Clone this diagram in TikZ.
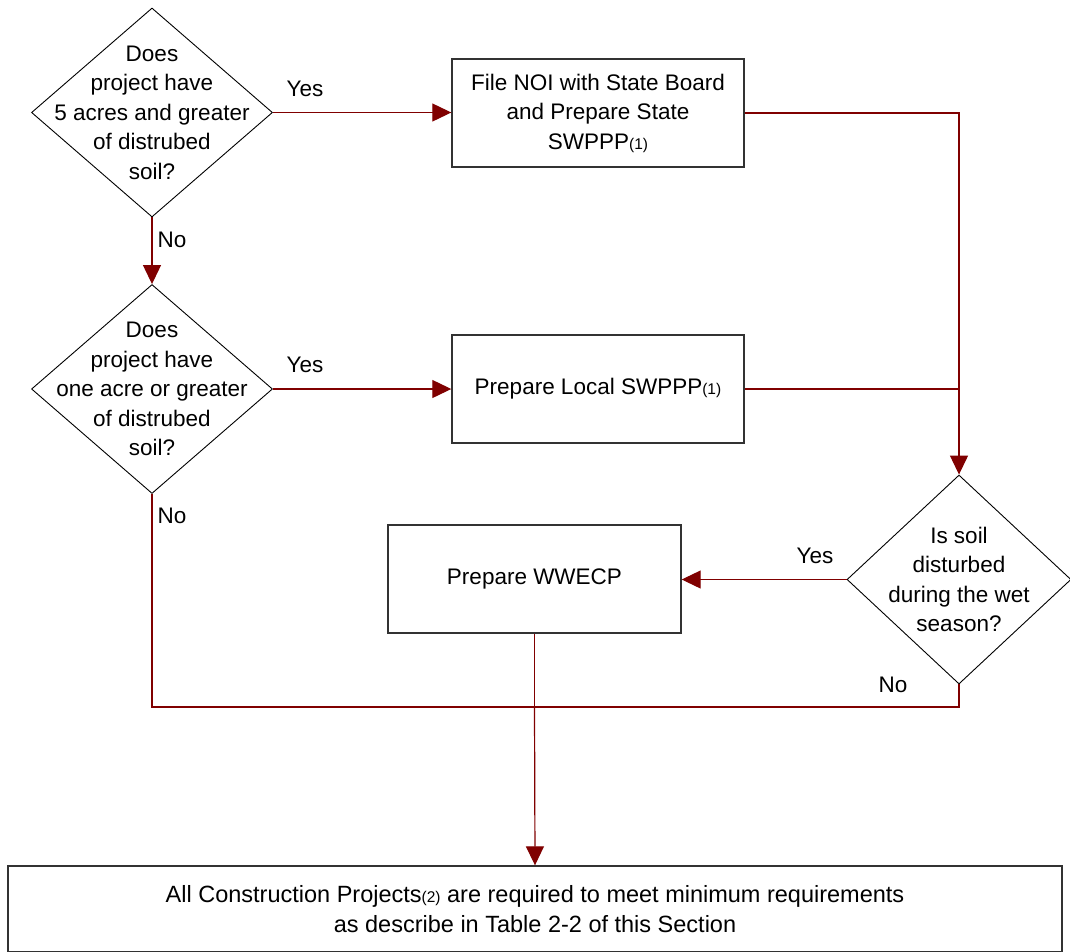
\documentclass[tikz,border=0pt]{standalone}
\usepackage{fontspec}
\setmainfont{Liberation Sans}
\usetikzlibrary{shapes.geometric,arrows.meta}
\definecolor{arrowred}{RGB}{128,0,0}
\definecolor{boxgray}{RGB}{50,50,50}
\newcommand{\sm}[1]{{\fontsize{15.5}{15.5}\selectfont #1}}
\begin{document}
\begin{tikzpicture}[x=1pt,y=-1pt,
  font=\fontsize{22.5}{29.5}\selectfont,
  dia/.style={draw=black,line width=0.9pt,diamond,inner sep=0pt,minimum width=241pt,minimum height=209pt},
  box/.style={draw=boxgray,line width=1.4pt,rectangle,inner sep=0pt,align=center},
  txt/.style={align=center,inner sep=0pt},
  lbl/.style={inner sep=0pt},
  conn/.style={draw=arrowred,line width=1.2pt},
  arr/.style={conn,-{Triangle[length=19pt,width=18pt]}}]
\useasboundingbox (0,0) rectangle (1070,951);
\fill[white] (0,0) rectangle (1070,951);
% decisions
\node[dia] (d1) at (152,112.5) {};
\node[txt] (t1) at (d1.center) {Does\\project have\\5 acres and greater\\of distrubed\\soil?};
\node[dia] (d2) at (152,389) {};
\node[txt] (t2) at (d2.center) {Does\\project have\\one acre or greater\\of distrubed\\soil?};
\node[dia,minimum width=224pt] (d3) at (959,579.5) {};
\node[txt] (t3) at (d3.center) {Is soil\\disturbed\\during the wet\\season?};
% boxes
\node[box,minimum width=292pt,minimum height=108pt] (b1) at (598,113) {File NOI with State Board\\and Prepare State\\SWPPP\sm{(1)}};
\node[box,minimum width=292pt,minimum height=108pt] (b2) at (598,389) {Prepare Local SWPPP\sm{(1)}};
\node[box,minimum width=293pt,minimum height=108pt] (b3) at (534.5,579) {Prepare WWECP};
\node[box,minimum width=1054pt,minimum height=86pt,font=\fontsize{23.5}{29.5}\selectfont] (b4) at (535,909) {All Construction Projects\sm{(2)} are required to meet minimum requirements\\as describe in Table 2-2 of this Section};
% junctions
\coordinate (j1) at (b1.east -| d3.north);
\coordinate (j2) at (b2.east -| d3.north);
\coordinate (j3) at (d2.south |- 0,707);
\coordinate (j4) at (d3.south |- 0,707);
\coordinate (j5) at (b3.south |- 0,707);
% connectors
\draw[arr] (d1.east) -- (b1.west |- d1.east);
\draw[arr] (d1.south) -- (d2.north);
\draw[arr] (d2.east) -- (b2.west |- d2.east);
\draw[conn] (b1.east) -- (j1) -- (j2);
\draw[conn] (b2.east) -- (j2);
\draw[arr] (j2) -- (d3.north);
\draw[arr] (d3.west) -- (b3.east |- d3.west);
\draw[conn] (d2.south) -- (j3) -- (j4) -- (d3.south);
\draw[conn] (b3.south) -- (j5);
\draw[arr] (j5) -- (b4.north);
% labels
\node[lbl] (y1) at (305,89) {Yes};
\node[lbl] (n1) at (172,240) {No};
\node[lbl] (y2) at (305,365) {Yes};
\node[lbl] (n2) at (172,516) {No};
\node[lbl] (y3) at (815,556) {Yes};
\node[lbl] (n3) at (893,685) {No};
\end{tikzpicture}
\end{document}
